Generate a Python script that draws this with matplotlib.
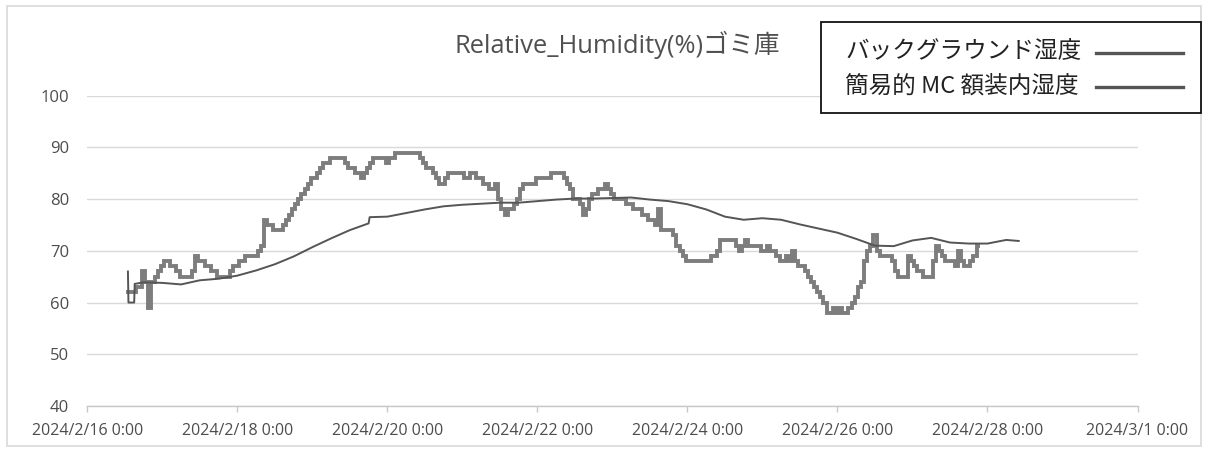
import matplotlib
matplotlib.use("Agg")
import matplotlib.pyplot as plt
from matplotlib.lines import Line2D
from matplotlib.patches import Rectangle
import pandas as pd

plt.rcParams['font.family'] = ['Open Sans', 'Noto Sans CJK JP', 'DejaVu Sans']

title = "Relative_Humidity(%)ゴミ庫"
legend_labels = ["バックグラウンド湿度", "簡易的 MC 額装内湿度"]

# Background humidity, hourly readings from 2024-02-16 13:00 (one row per 24 h)
background_start = "2024-02-16 13:00"
background_rh = [
    62, 62, 62, 63, 63, 66, 64, 59, 64, 65, 66, 67, 68, 68, 67, 67, 66, 65, 65, 65, 65, 66, 69, 68,
    68, 67, 67, 66, 66, 65, 65, 65, 65, 66, 67, 67, 68, 68, 69, 69, 69, 69, 70, 71, 76, 75, 75, 74,
    74, 74, 75, 76, 77, 78, 79, 80, 81, 82, 83, 84, 84, 85, 86, 87, 87, 88, 88, 88, 88, 88, 87, 86,
    86, 85, 85, 84, 85, 86, 87, 88, 88, 88, 88, 87, 88, 88, 89, 89, 89, 89, 89, 89, 89, 89, 88, 87,
    86, 86, 85, 84, 83, 83, 84, 85, 85, 85, 85, 85, 84, 84, 85, 85, 84, 84, 83, 83, 82, 82, 83, 80,
    78, 77, 78, 78, 79, 80, 82, 83, 83, 83, 83, 84, 84, 84, 84, 84, 85, 85, 85, 85, 84, 83, 82, 80,
    80, 79, 77, 78, 80, 81, 81, 82, 82, 83, 82, 81, 80, 80, 80, 80, 79, 79, 78, 78, 78, 77, 77, 76,
    76, 75, 78, 74, 74, 74, 74, 73, 71, 70, 69, 68, 68, 68, 68, 68, 68, 68, 68, 69, 69, 70, 72, 72,
    72, 72, 72, 71, 70, 71, 72, 71, 71, 71, 71, 70, 70, 71, 70, 70, 69, 68, 68, 69, 68, 70, 68, 67,
    67, 66, 65, 64, 63, 62, 61, 60, 58, 58, 59, 58, 59, 58, 58, 59, 60, 61, 63, 64, 68, 70, 71, 73,
    70, 69, 69, 69, 69, 68, 66, 65, 65, 65, 69, 68, 67, 66, 66, 65, 65, 65, 68, 71, 70, 69, 68, 68,
    68, 67, 70, 68, 67, 67, 68, 69, 71,
]

# Humidity inside the simple micro-climate frame
frame_times = [
    "2024-02-16 13:00", "2024-02-16 13:10", "2024-02-16 15:00", "2024-02-16 15:10",
    "2024-02-16 18:00", "2024-02-17 00:00", "2024-02-17 06:00", "2024-02-17 12:00",
    "2024-02-17 18:00", "2024-02-18 00:00", "2024-02-18 06:00", "2024-02-18 12:00",
    "2024-02-18 18:00", "2024-02-19 00:00", "2024-02-19 06:00", "2024-02-19 12:00",
    "2024-02-19 18:00", "2024-02-19 18:20", "2024-02-20 00:00", "2024-02-20 06:00",
    "2024-02-20 12:00", "2024-02-20 18:00", "2024-02-21 00:00", "2024-02-21 06:00",
    "2024-02-21 12:00", "2024-02-21 18:00", "2024-02-22 00:00", "2024-02-22 06:00",
    "2024-02-22 12:00", "2024-02-22 18:00", "2024-02-23 00:00", "2024-02-23 06:00",
    "2024-02-23 12:00", "2024-02-23 18:00", "2024-02-24 00:00", "2024-02-24 06:00",
    "2024-02-24 12:00", "2024-02-24 18:00", "2024-02-25 00:00", "2024-02-25 06:00",
    "2024-02-25 12:00", "2024-02-25 18:00", "2024-02-26 00:00", "2024-02-26 06:00",
    "2024-02-26 12:00", "2024-02-26 18:00", "2024-02-27 00:00", "2024-02-27 06:00",
    "2024-02-27 12:00", "2024-02-27 18:00", "2024-02-28 00:00", "2024-02-28 06:00",
    "2024-02-28 10:00",
]
frame_rh = [
    66.0, 60.0, 60.0, 63.6,
    63.9, 63.8, 63.5, 64.3,
    64.6, 65.2, 66.2, 67.4,
    68.9, 70.7, 72.4, 74.0,
    75.3, 76.5, 76.6, 77.3,
    78.0, 78.6, 78.9, 79.1,
    79.3, 79.3, 79.6, 79.9,
    80.1, 80.1, 80.2, 80.3,
    79.9, 79.6, 79.0, 78.0,
    76.6, 76.0, 76.3, 76.0,
    75.1, 74.3, 73.5, 72.3,
    71.0, 70.9, 72.0, 72.5,
    71.6, 71.4, 71.4, 72.1,
    71.9,
]

y_ticks = [40, 50, 60, 70, 80, 90, 100]
x_tick_dates = ["2024-02-16", "2024-02-18", "2024-02-20", "2024-02-22",
                "2024-02-24", "2024-02-26", "2024-02-28", "2024-03-01"]

bg_times = pd.date_range(background_start, periods=len(background_rh), freq="h")
fr_times = pd.to_datetime(frame_times)
tick_times = pd.to_datetime(x_tick_dates)

W, H = 1208, 450
fig = plt.figure(figsize=(W / 100, H / 100), dpi=100)
fig.patches.append(Rectangle((7 / W, 4 / H), 1194 / W, 440 / H, transform=fig.transFigure,
                             fill=False, edgecolor="#d9d9d9", linewidth=1.2))

ax = fig.add_axes([87.3 / W, 1 - 406 / H, (1137.5 - 87.3) / W, (406 - 95.6) / H])

ax.plot(bg_times, background_rh, color="#7d7d7d", linewidth=2.8, drawstyle="steps-mid",
        solid_joinstyle="miter", zorder=3)
ax.plot(fr_times, frame_rh, color="#555555", linewidth=1.4, zorder=4)

ax.set_ylim(40, 100)
ax.set_yticks(y_ticks)
ax.set_xlim(tick_times[0], tick_times[-1])
ax.set_xticks(tick_times)
ax.set_xticklabels([f"{d.year}/{d.month}/{d.day} 0:00" for d in tick_times])

ax.grid(axis="y", color="#d9d9d9", linewidth=1.0)
ax.set_axisbelow(True)
for s in ["top", "right", "left"]:
    ax.spines[s].set_visible(False)
ax.spines["bottom"].set_color("#c8c8c8")
ax.spines["bottom"].set_linewidth(1.0)
ax.tick_params(axis="x", colors="#c8c8c8", length=4, width=1.0, labelcolor="#4d4d4d",
               labelsize=11.5, pad=8)
ax.tick_params(axis="y", length=0, labelcolor="#4d4d4d", labelsize=12, pad=13)

fig.text(617 / W, 1 - 45 / H, title, ha="center", va="center", fontsize=18.4, color="#505050")

# Legend box with the line samples placed after the labels
fig.patches.append(Rectangle((821 / W, 1 - 113 / H), 380 / W, 91 / H, transform=fig.transFigure,
                             facecolor="white", edgecolor="#111111", linewidth=1.3, zorder=5))
for label, y in zip(legend_labels, [52, 86]):
    fig.text(845 / W, 1 - y / H, label, ha="left", va="center", fontsize=17,
             family=["Noto Sans CJK JP"], color="#222222", zorder=6)
    fig.add_artist(Line2D([1096 / W, 1183 / W], [1 - (y + 1) / H, 1 - (y + 1) / H],
                          transform=fig.transFigure, color="#555555", linewidth=2.4, zorder=6))

fig.savefig("out.png", dpi=100)
